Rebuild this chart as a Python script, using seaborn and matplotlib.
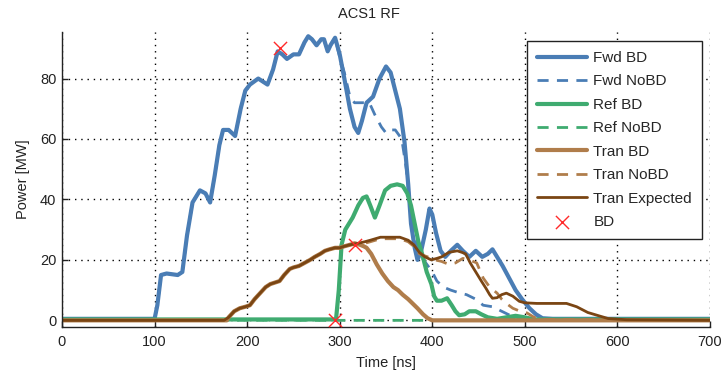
import matplotlib
matplotlib.use("Agg")
import matplotlib.pyplot as plt
import seaborn as sns
import numpy as np
import pandas as pd

# ---- data ----
fwd_bd_t = [0, 100, 103, 107, 113, 125, 130, 135, 141, 149, 155, 160, 165, 170, 174, 180, 187, 193, 198, 203,
            212, 222, 228, 233, 238, 243, 250, 256, 262, 266, 270, 275, 280, 283, 287, 290, 295, 300, 305, 311,
            316, 320, 324, 329, 336, 343, 350, 355, 360, 365, 370, 374, 377, 381, 384, 388, 393, 397, 400, 404,
            409, 414, 420, 427, 433, 440, 447, 454, 460, 465, 470, 476, 483, 490, 497, 505, 512, 519, 530, 700]
fwd_bd_p = [0.5, 0.5, 5, 15, 15.5, 15, 16, 28, 39, 43, 42, 39, 48, 58, 63, 63, 61, 70, 76, 78,
            80, 78, 83, 89, 88, 86.5, 88, 88, 92, 94, 93, 91, 93, 93, 89, 91, 93.5, 88, 80, 70,
            64, 62, 66, 72, 74, 80, 84, 82, 76, 70, 59, 45, 32, 24, 20, 23, 30, 37, 35, 29,
            23, 21, 23, 25, 23, 21, 23, 21, 22, 23.5, 21, 18, 14, 10, 7, 4, 2, 0.7, 0.5, 0.5]

fwd_nobd_t = [0, 100, 103, 107, 113, 125, 130, 135, 141, 149, 155, 160, 165, 170, 174, 180, 187, 193, 198, 203,
              212, 222, 228, 233, 238, 243, 250, 256, 262, 266, 270, 275, 280, 283, 287, 290, 295, 300, 305, 311,
              316, 322, 332, 338, 345, 350, 355, 360, 367, 372, 376, 380, 386, 393, 400, 405, 412, 420, 430, 437,
              447, 455, 465, 475, 485, 500, 700]
fwd_nobd_p = [0.5, 0.5, 5, 15, 15.5, 15, 16, 28, 39, 43, 42, 39, 48, 58, 63, 63, 61, 70, 76, 78,
              80, 78, 83, 89, 88, 86.5, 88, 88, 92, 94, 93, 91, 93, 93, 89, 91, 93.5, 87, 82, 74,
              72, 72, 72, 68, 64, 62, 63, 63, 60, 50, 38, 28, 22, 19, 16, 13, 11, 10, 9, 8.5,
              7, 5, 4.5, 3, 1.5, 0.5, 0.5]

ref_bd_t = [0, 296, 299, 302, 306, 314, 320, 325, 329, 333, 338, 343, 349, 355, 362, 368, 373, 377, 381, 385,
            389, 394, 399, 402, 405, 410, 416, 421, 425, 429, 435, 440, 447, 453, 460, 470, 480, 490, 500, 510, 700]
ref_bd_p = [0.3, 0.3, 10, 25, 30, 34, 38, 40.5, 41, 38, 34, 38, 43, 44.5, 45, 44.5, 42, 38, 32, 26,
            22, 16, 12, 8, 6.5, 6.5, 7.3, 5, 3, 1.7, 2, 3, 3, 2, 1, 0.5, 1, 1.5, 1, 0.3, 0.3]

ref_nobd_t = [0, 300, 480, 490, 500, 520, 700]
ref_nobd_p = [0.2, 0.0, 0.0, 1.0, 0.5, 0.0, 0.0]

tran_exp_t = [0, 175, 180, 186, 192, 198, 203, 208, 214, 220, 225, 230, 235, 240, 246, 250, 256, 262, 268, 273,
              279, 284, 289, 295, 300, 305, 311, 320, 327, 333, 344, 355, 365, 374, 380, 386, 392, 399, 405, 410,
              418, 427, 432, 436, 441, 447, 453, 458, 462, 465, 470, 475, 480, 487, 494, 500, 513, 530, 545, 556,
              568, 580, 590, 610, 700]
tran_exp_p = [0, 0, 1, 3, 4, 4.5, 5, 7, 9, 11, 12, 12.5, 13, 15, 17, 17.5, 18, 19, 20, 21,
              22, 23, 23.5, 24, 24, 24.5, 25, 25.5, 26, 26.5, 27.5, 27.5, 27.5, 26.5, 25, 22.5, 21, 20, 20.5, 21,
              22.5, 23, 22.5, 22, 19, 16, 13, 10.6, 8.5, 7.3, 7.5, 8.5, 9, 8, 6.3, 5.8, 5.6, 5.6, 5.6, 4.5,
              2.6, 1.5, 0.6, 0.2, 0]

tran_bd_t = [0, 178, 180, 186, 192, 198, 203, 208, 214, 220, 225, 230, 235, 240, 246, 250, 256, 262, 268, 273,
             279, 284, 289, 295, 300, 305, 311, 316, 322, 326, 329, 334, 340, 346, 352, 358, 363, 368, 374, 379,
             384, 390, 395, 400, 700]
tran_bd_p = [0, 0, 1, 3, 4, 4.5, 5, 7, 9, 11, 12, 12.5, 13, 15, 17, 17.5, 18, 19, 20, 21,
             22, 23, 23.5, 24, 24, 24.5, 25, 25.5, 25, 24.5, 24, 22, 18.5, 15.5, 13, 11, 10, 8.5, 7, 5.5,
             4, 2, 0.7, 0, 0]

tran_nobd_t = [0, 178, 180, 186, 192, 198, 203, 208, 214, 220, 225, 230, 235, 240, 246, 250, 256, 262, 268, 273,
               279, 284, 289, 295, 300, 305, 311, 320, 327, 333, 344, 355, 365, 374, 380, 386, 395, 403, 410, 418,
               425, 433, 440, 448, 455, 462, 470, 475, 480, 487, 495, 502, 510, 520, 700]
tran_nobd_p = [0, 0, 1, 3, 4, 4.5, 5, 7, 9, 11, 12, 12.5, 13, 15, 17, 17.5, 18, 19, 20, 21,
               22, 23, 23.5, 24, 24, 24.5, 25, 25, 25.5, 26, 27, 27, 27, 26, 24.5, 22, 21, 20, 19.5, 18.5,
               19, 20.5, 20, 19, 14, 11, 9, 7, 5.6, 4, 3, 2.5, 1, 0.3, 0]

bd_t = [235, 295, 316]
bd_p = [90, 0, 25]

# ---- styles ----
c_fwd = "#4a7db5"
c_ref = "#3fab70"
c_tran = "#b07d4b"
c_exp = "#7a4513"
c_bd = "#ff2a2a"

sns.set_style("white")
plt.rcParams["font.family"] = ["Liberation Sans", "DejaVu Sans"]

fig = plt.figure(figsize=(7.21, 3.76), dpi=100)
ax = fig.add_axes([62 / 721, 1 - 327 / 376, (710 - 62) / 721, (327 - 32) / 376])

dash = (0, (4, 3))
series = [
    (fwd_bd_t, fwd_bd_p, c_fwd, 3.0, "-", "Fwd BD"),
    (fwd_nobd_t, fwd_nobd_p, c_fwd, 2.0, dash, "Fwd NoBD"),
    (ref_bd_t, ref_bd_p, c_ref, 3.0, "-", "Ref BD"),
    (ref_nobd_t, ref_nobd_p, c_ref, 2.0, dash, "Ref NoBD"),
    (tran_bd_t, tran_bd_p, c_tran, 3.0, "-", "Tran BD"),
    (tran_nobd_t, tran_nobd_p, c_tran, 2.0, dash, "Tran NoBD"),
    (tran_exp_t, tran_exp_p, c_exp, 2.0, "-", "Tran Expected"),
]
for t, p, c, lw, ls, lab in series:
    sns.lineplot(x=t, y=p, ax=ax, color=c, linewidth=lw, linestyle=ls, label=lab,
                 estimator=None, sort=False)

sns.scatterplot(x=bd_t, y=bd_p, ax=ax, marker="x", s=90, color=c_bd, linewidth=1.0,
                label="BD", zorder=5)

ax.set_xlim(0, 700)
ax.set_ylim(-2.2, 95.4)
ax.set_xticks([0, 100, 200, 300, 400, 500, 600, 700])
ax.set_yticks([0, 20, 40, 60, 80])
ax.grid(True, linestyle=(0, (1, 3.5)), color="k", linewidth=1.0)
for s in ["top", "right"]:
    ax.spines[s].set_visible(False)
for s in ["left", "bottom"]:
    ax.spines[s].set_color("#222222")
    ax.spines[s].set_linewidth(1.0)
ax.tick_params(direction="in", length=4, width=1, colors="#222222", labelsize=10.5,
               left=True, bottom=True)
ax.tick_params(axis="y", pad=4)
ax.tick_params(axis="x", pad=6)

ax.set_xlabel("Time [ns]", fontsize=10.5, color="#222222", labelpad=5)
ax.set_ylabel("Power [MW]", fontsize=10.5, color="#222222", labelpad=7)
ax.set_title("ACS1 RF", fontsize=10.5, color="#222222", x=0.474, pad=10)

leg = ax.legend(loc="upper right", bbox_to_anchor=(702 / 721, 1 - 41 / 376),
                bbox_transform=fig.transFigure, borderaxespad=0, fontsize=11,
                frameon=True, fancybox=False, edgecolor="#222222", framealpha=1,
                labelspacing=0.62, handlelength=3.3, handletextpad=0.4, borderpad=0.65)
leg.get_frame().set_linewidth(1.0)

fig.savefig("out.png", dpi=100)
